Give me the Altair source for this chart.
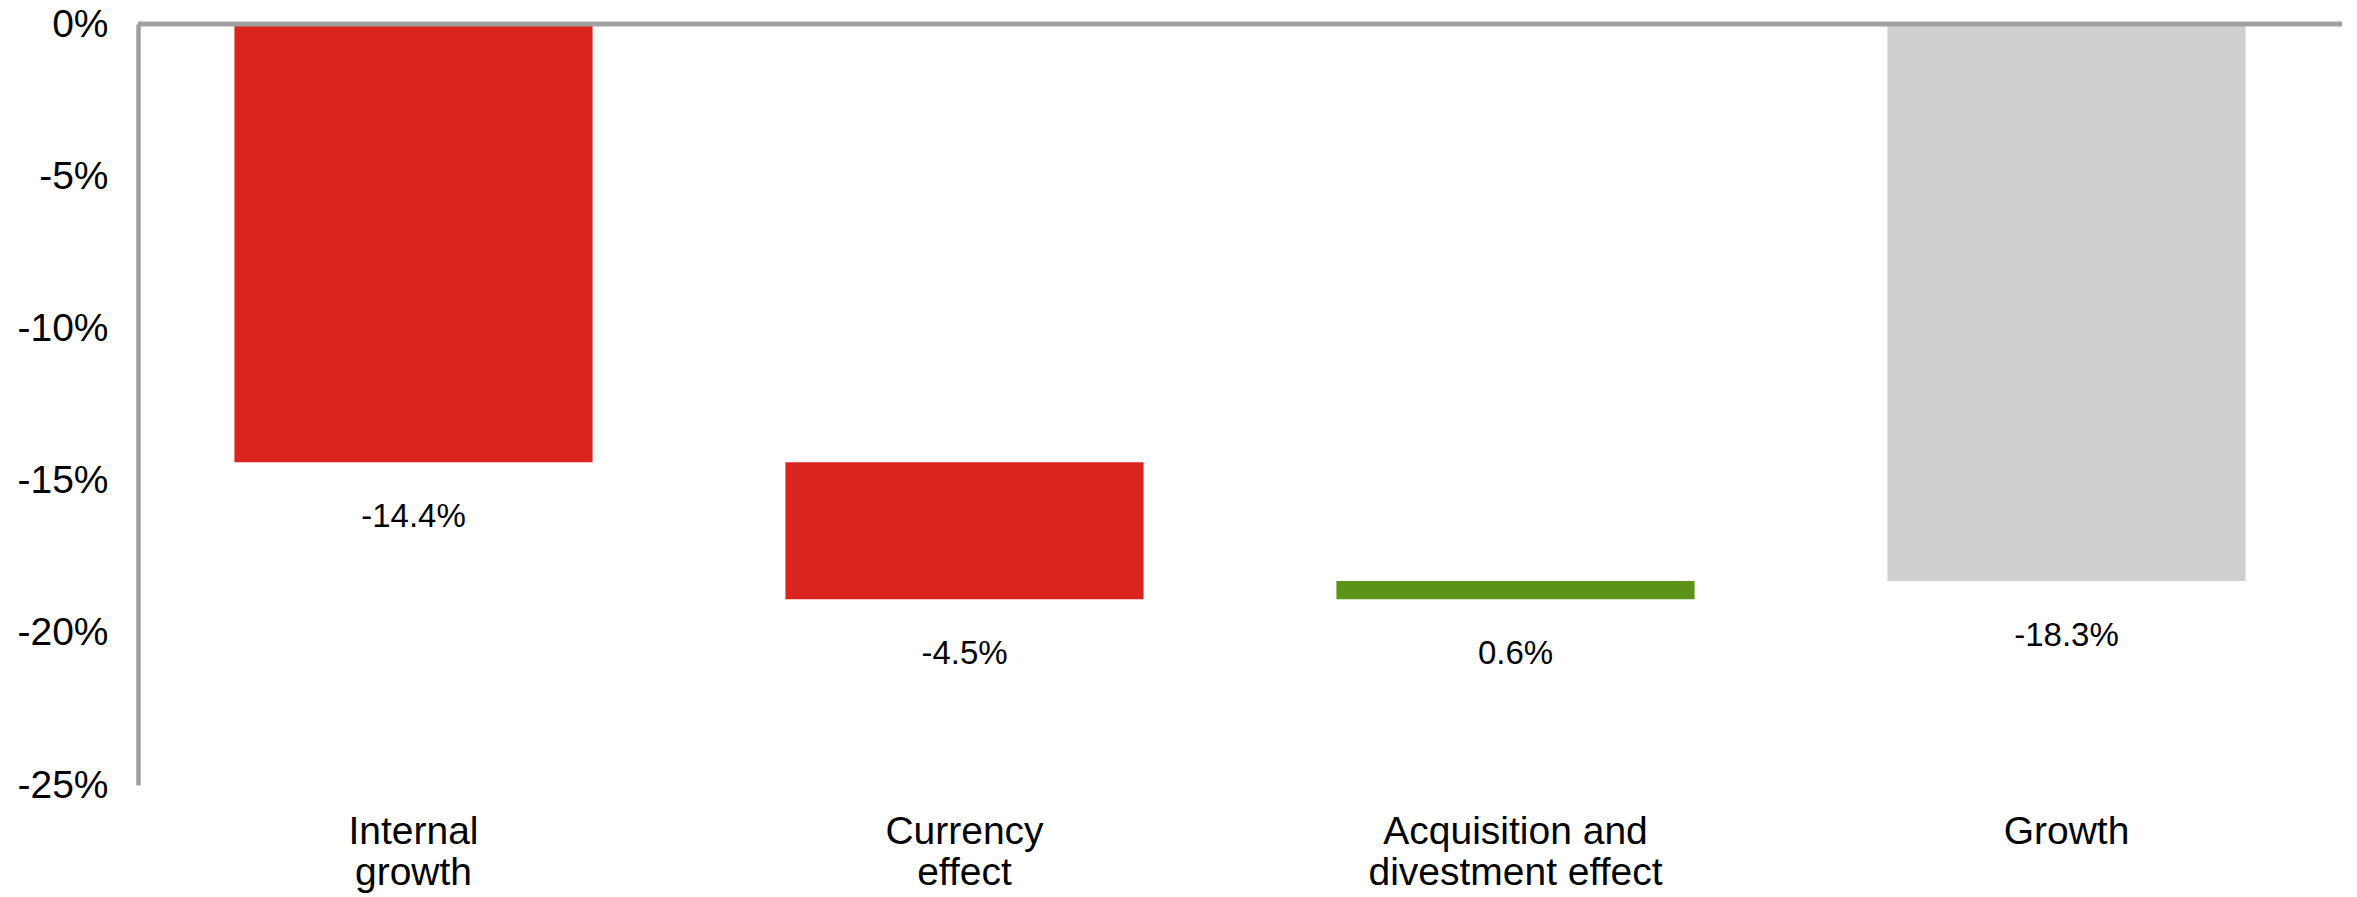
import altair as alt
import pandas as pd

categories = ["Internal growth", "Currency effect", "Acquisition and divestment effect", "Growth"]
axis_labels = ["Internal|growth", "Currency|effect", "Acquisition and|divestment effect", "Growth"]
starts = [0.0, -14.4, -18.9, 0.0]
ends = [-14.4, -18.9, -18.3, -18.3]
value_labels = ["-14.4%", "-4.5%", "0.6%", "-18.3%"]
colors = ["#DA251F", "#DA251F", "#5B9217", "#CFCFCF"]

df = pd.DataFrame({
    "cat": categories,
    "start": starts,
    "end": ends,
    "bottom": [min(a, b) for a, b in zip(starts, ends)],
    "txt": value_labels,
    "color": colors,
})

FONT = "Liberation Sans, Arial"
label_map = "{" + ",".join(f"'{c}': '{l}'" for c, l in zip(categories, axis_labels)) + "}"

x = alt.X("cat:N", sort=categories, title=None,
          scale=alt.Scale(paddingInner=0.35, paddingOuter=0.175),
          axis=alt.Axis(labelAngle=0, domain=False, ticks=False, labelPadding=27,
                        labelFont=FONT, labelFontSize=39, labelColor="#000000",
                        labelLineHeight=41, labelLimit=0,
                        labelExpr=f"split({label_map}[datum.label], '|')"))
y_scale = alt.Scale(domain=[-25, 0], nice=False, zero=False)

bars = alt.Chart(df).mark_bar(cornerRadius=0).encode(
    x=x,
    y=alt.Y("start:Q", scale=y_scale, title=None,
            axis=alt.Axis(values=[0, -5, -10, -15, -20, -25], labelExpr="datum.value + '%'",
                          grid=False, ticks=False, domainColor="#A0A0A0", domainWidth=4.5,
                          labelPadding=30, labelFont=FONT, labelFontSize=39,
                          labelColor="#000000")),
    y2="end:Q",
    color=alt.Color("color:N", scale=None),
)

texts = alt.Chart(df).mark_text(font=FONT, fontSize=33, dy=55, baseline="middle",
                                color="#000000").encode(
    x=alt.X("cat:N", sort=categories),
    y=alt.Y("bottom:Q", scale=y_scale),
    text="txt:N",
)

zero = alt.Chart(pd.DataFrame({"v": [0]})).mark_rule(color="#A0A0A0", strokeWidth=5).encode(
    y=alt.Y("v:Q", scale=y_scale),
)

chart = alt.layer(bars, texts, zero).properties(
    width=2204, height=761,
    autosize=alt.AutoSizeParams(type="none"),
    padding={"left": 138, "top": 24, "right": 15, "bottom": 112},
).configure_view(stroke=None)

chart.save("out.html", embed_options={"renderer": "svg", "actions": False})
